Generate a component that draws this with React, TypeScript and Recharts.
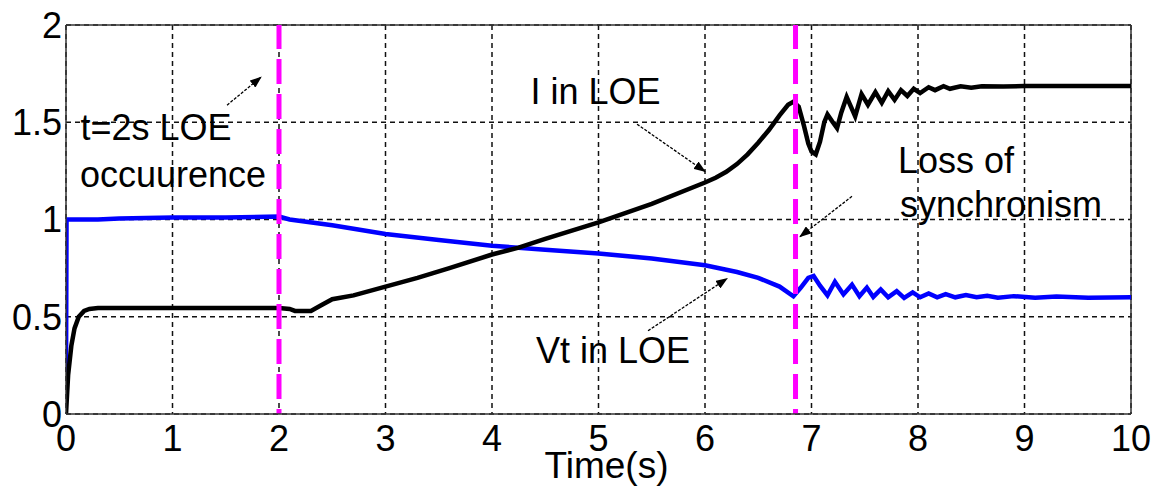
import React from "react";
import {
  LineChart, Line, XAxis, YAxis, CartesianGrid, ReferenceLine, ReferenceDot, Label,
} from "recharts";

// I in LOE (black)
const iTime = [
  0, 0.02, 0.05, 0.08, 0.12, 0.17, 0.22, 0.3, 1.0, 2.0, 2.1, 2.15, 2.3, 2.4, 2.5, 2.7,
  3.0, 3.3, 3.6, 4.0, 4.25, 4.5, 5.0, 5.5, 6.0, 6.1, 6.2, 6.3, 6.4, 6.5, 6.6, 6.7, 6.78, 6.83,
  6.88, 6.93, 6.97, 7.0, 7.04, 7.08, 7.12, 7.15, 7.2, 7.24, 7.28, 7.33, 7.37, 7.41, 7.47, 7.53,
  7.6, 7.66, 7.72, 7.78, 7.84, 7.9, 7.96, 8.02, 8.1, 8.16, 8.24, 8.3, 8.4, 8.5, 8.6, 8.8, 9.0, 10.0,
];
const iValues = [
  0, 0.2, 0.35, 0.44, 0.5, 0.53, 0.54, 0.545, 0.545, 0.545, 0.54, 0.53, 0.53, 0.56, 0.59, 0.61,
  0.655, 0.7, 0.75, 0.82, 0.855, 0.9, 0.985, 1.08, 1.19, 1.215, 1.245, 1.285, 1.335, 1.395, 1.46, 1.535, 1.59, 1.605,
  1.58, 1.48, 1.39, 1.35, 1.335, 1.4, 1.5, 1.54, 1.5, 1.47, 1.55, 1.63, 1.58, 1.53, 1.645, 1.59,
  1.655, 1.6, 1.66, 1.615, 1.665, 1.635, 1.672, 1.65, 1.68, 1.665, 1.685, 1.672, 1.685, 1.677, 1.685, 1.684, 1.686, 1.686,
];

// Vt in LOE (blue)
const vTime = [
  0, 0.005, 0.3, 0.5, 1.0, 1.5, 2.0, 2.1, 2.5, 3.0, 3.5, 4.0, 4.5, 5.0, 5.5, 6.0, 6.3, 6.5,
  6.7, 6.83, 6.9, 6.97, 7.02, 7.08, 7.15, 7.22, 7.3, 7.38, 7.45, 7.52, 7.58, 7.65, 7.72,
  7.8, 7.87, 7.95, 8.02, 8.1, 8.18, 8.26, 8.35, 8.45, 8.55, 8.65, 8.75, 8.9, 9.1, 9.3, 9.6, 10.0,
];
const vValues = [
  0.18, 1.0, 1.0, 1.005, 1.01, 1.01, 1.015, 1.0, 0.97, 0.925, 0.895, 0.865, 0.845, 0.825, 0.8, 0.765, 0.73, 0.7,
  0.655, 0.605, 0.65, 0.7, 0.71, 0.66, 0.61, 0.68, 0.615, 0.665, 0.605, 0.65, 0.602, 0.64, 0.6,
  0.632, 0.597, 0.625, 0.6, 0.62, 0.6, 0.616, 0.6, 0.612, 0.6, 0.608, 0.598, 0.606, 0.598, 0.604, 0.598, 0.6,
];

const xTicks = [0, 1, 2, 3, 4, 5, 6, 7, 8, 9, 10];
const yTicks = [0, 0.5, 1, 1.5, 2];
const eventTimes = [2, 6.85];

// annotation text: [label, t, value] (centre of text)
const notes: [string, number, number][] = [
  ["t=2s LOE", 0.845, 1.474],
  ["occuurence", 1.005, 1.232],
  ["I in LOE", 4.972, 1.662],
  ["Vt in LOE", 5.136, 0.33],
  ["Loss of", 8.357, 1.304],
  ["synchronism", 8.78, 1.077],
];

// arrows: [t1, v1, t2, v2] (tail -> head)
const arrows: [number, number, number, number][] = [
  [1.512, 1.588, 1.831, 1.732],
  [5.362, 1.49, 6.0, 1.247],
  [5.465, 0.428, 6.207, 0.696],
  [7.38, 1.119, 6.892, 0.912],
];

const iData = iTime.map((t, k) => ({ t, v: iValues[k] }));
const vData = vTime.map((t, k) => ({ t, v: vValues[k] }));

const FONT = "'Liberation Sans', Arial, sans-serif";

const Arrow = (p: any) => (
  <line
    x1={p.x1} y1={p.y1} x2={p.x2} y2={p.y2}
    stroke="#000" strokeWidth={1.3} strokeDasharray="3 1.5"
    markerEnd="url(#arrowHead)"
  />
);

export default function App() {
  return (
    <div style={{ position: "absolute", left: 0, top: 0, background: "#fff" }}>
      <LineChart
        width={1161}
        height={493}
        margin={{ top: 25, right: 30, left: 0, bottom: 0 }}
        style={{ fontFamily: FONT }}
      >
        <defs>
          <marker id="arrowHead" markerWidth={12} markerHeight={9} refX={11} refY={4.5}
                  orient="auto" markerUnits="userSpaceOnUse">
            <path d="M0,0 L12,4.5 L0,9 z" fill="#000" />
          </marker>
        </defs>
        <CartesianGrid stroke="#111" strokeDasharray="5 4" strokeWidth={1.5} />
        <XAxis
          type="number" dataKey="t" domain={[0, 10]} ticks={xTicks}
          allowDataOverflow height={79}
          tickSize={0} tickMargin={11}
          tick={{ fontSize: 36, fill: "#000", fontFamily: FONT }}
          axisLine={{ stroke: "#333", strokeWidth: 1.5 }}
        >
          <Label value="Time(s)" position="insideBottom" offset={15} dx={8}
                 style={{ fontSize: 37, fill: "#000", fontFamily: FONT }} />
        </XAxis>
        <YAxis
          type="number" domain={[0, 2]} ticks={yTicks} width={66}
          allowDataOverflow
          tickSize={0} tickMargin={4}
          tick={{ fontSize: 36, fill: "#000", fontFamily: FONT }}
          axisLine={{ stroke: "#333", strokeWidth: 1.5 }}
        />
        <ReferenceLine y={2} stroke="#333" strokeWidth={1.5} />
        <ReferenceLine x={10} stroke="#333" strokeWidth={1.5} />

        <Line data={vData} dataKey="v" type="linear" stroke="#0000ff" strokeWidth={4.5}
              dot={false} isAnimationActive={false} />
        <Line data={iData} dataKey="v" type="linear" stroke="#000" strokeWidth={4.5}
              dot={false} isAnimationActive={false} />

        {eventTimes.map((t) => (
          <ReferenceLine key={t} x={t} stroke="#ff00ff" strokeWidth={5} strokeDasharray="5 10 25 10 25 10 25 10 25 10 25 10 25 10 25 10 25 10 25 10 25 10 25 10 25 10" />
        ))}

        {arrows.map(([t1, v1, t2, v2], k) => (
          <ReferenceLine key={"a" + k} segment={[{ x: t1, y: v1 }, { x: t2, y: v2 }]}
                         shape={Arrow} ifOverflow="visible" />
        ))}

        {notes.map(([text, t, v]) => (
          <ReferenceDot key={text} x={t} y={v} r={0} stroke="none" fill="none" ifOverflow="visible">
            <Label value={text} position="center"
                   style={{ fontSize: 36, fill: "#000", fontFamily: FONT }} />
          </ReferenceDot>
        ))}
      </LineChart>
    </div>
  );
}
